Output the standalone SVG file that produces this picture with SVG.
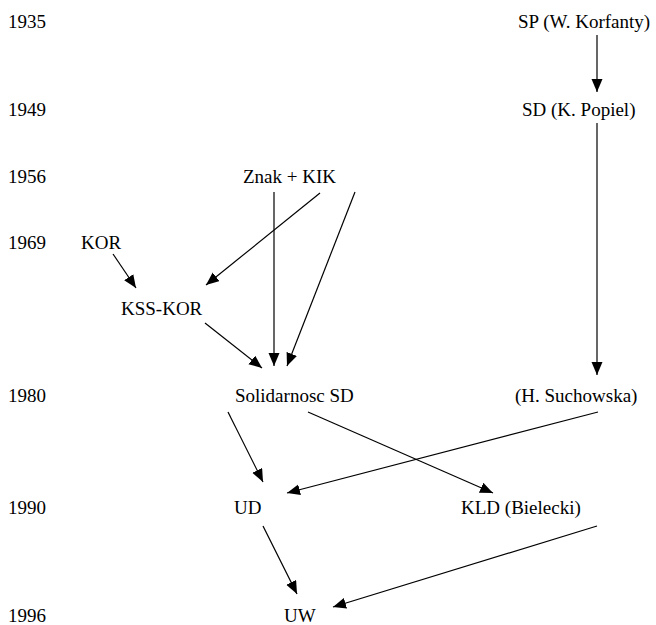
<svg xmlns="http://www.w3.org/2000/svg" width="656" height="625" viewBox="0 0 656 625">
<style>
text{font-family:'Liberation Serif','Times New Roman',Times,Tinos,'Nimbus Roman','DejaVu Serif',serif;font-size:19px;fill:#000}
.c line{stroke:#000;stroke-width:1.2;marker-end:url(#ah)}
</style>
<defs>
<marker id="ah" markerUnits="userSpaceOnUse" markerWidth="14" markerHeight="12" refX="13" refY="5.5" orient="auto">
<path d="M0,0 L13,5.5 L0,11 z" fill="#000"/>
</marker>
</defs>
<rect width="656" height="625" fill="#fff"/>
<g id="years">
<text x="8" y="28">1935</text>
<text x="8" y="116">1949</text>
<text x="8" y="183">1956</text>
<text x="8" y="249">1969</text>
<text x="8" y="402">1980</text>
<text x="8" y="514">1990</text>
<text x="8" y="622">1996</text>
</g>
<g id="sp"><text x="518" y="28">SP (W. Korfanty)</text></g>
<g id="sd"><text x="522" y="116">SD (K. Popiel)</text></g>
<g id="znak"><text x="243" y="183">Znak + KIK</text></g>
<g id="kor"><text x="81" y="249">KOR</text></g>
<g id="ksskor"><text x="121" y="315">KSS-KOR</text></g>
<g id="solidarnosc"><text x="235" y="402">Solidarnosc SD</text></g>
<g id="suchowska"><text x="515" y="402">(H. Suchowska)</text></g>
<g id="ud"><text x="234" y="514">UD</text></g>
<g id="kld"><text x="461" y="514">KLD (Bielecki)</text></g>
<g id="uw"><text x="284" y="622">UW</text></g>
<g id="connectors" class="c">
<line x1="597" y1="35" x2="597" y2="92"/>
<line x1="597" y1="123" x2="597" y2="375"/>
<line x1="320" y1="193" x2="206" y2="285"/>
<line x1="274" y1="192" x2="274" y2="366"/>
<line x1="355" y1="192" x2="287" y2="366"/>
<line x1="113" y1="254" x2="136" y2="288"/>
<line x1="205" y1="323" x2="262" y2="368"/>
<line x1="228" y1="412" x2="263" y2="482"/>
<line x1="308" y1="412" x2="493" y2="493"/>
<line x1="598" y1="412" x2="287" y2="493"/>
<line x1="263" y1="526" x2="297" y2="594"/>
<line x1="597" y1="526" x2="333" y2="607"/>
</g>
</svg>
